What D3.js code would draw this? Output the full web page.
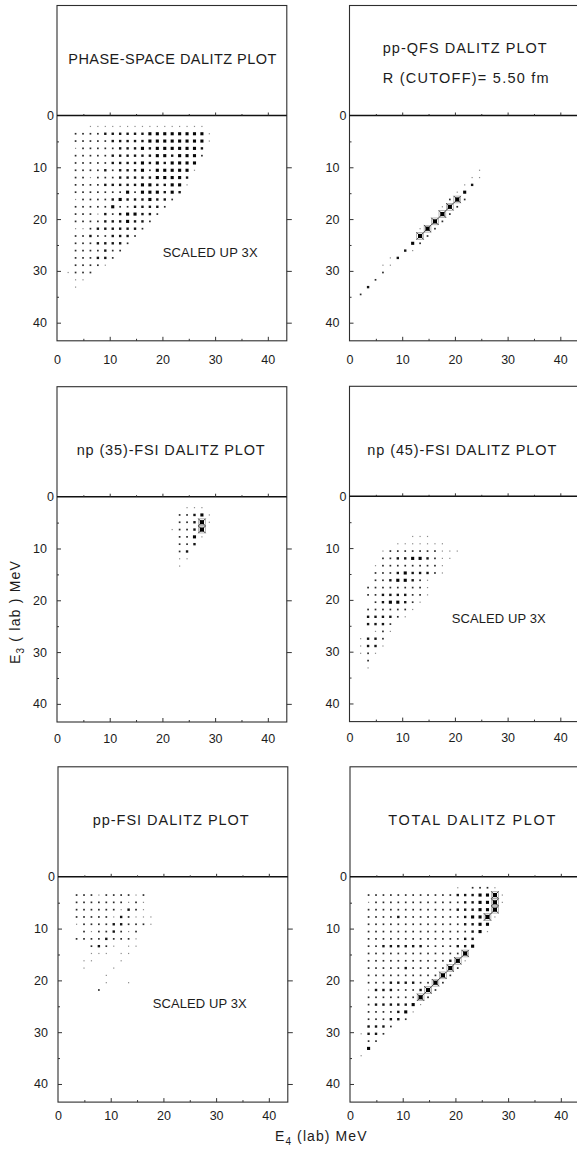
<!DOCTYPE html>
<html>
<head>
<meta charset="utf-8">
<script src="https://cdn.jsdelivr.net/npm/d3@7"></script>
<style>
  html, body { margin: 0; padding: 0; background: #fff; }
  svg { display: block; }
</style>
</head>
<body>
<svg id="chart" width="577" height="1150"></svg>
<script>
// ---------------------------------------------------------------
// Dalitz-plot histograms, E3 (rows j) versus E4 (columns i).
// Each bin is BIN MeV wide; bin centre = (k + 0.5) * BIN.
// Cell code: "." empty, 1 faint dot ... 4 large square, 5 crossed square.
// ---------------------------------------------------------------
const BIN = 1.41;
const X_MAX = 43.6;
const Y_MAX = 43.5;
const xTicks = [0, 10, 20, 30, 40];
const yTicks = [0, 10, 20, 30, 40];
const minorTicks = [5, 15, 25, 35];

const phaseSpace = [
  "......................",
  "....1111111111111111..",
  "..2222333333444444441.",
  "..2222233333444444441.",
  "..122222333434444443..",
  "..222223333334434442..",
  "..22222333343434444...",
  "..22223233342444441...",
  "..2212223333344443....",
  "..2222333334433441....",
  "..222222242444343.....",
  "..12222343334332......",
  "..2222242233332.......",
  "..222132344332........",
  "..22223334332.........",
  "..1123333332..........",
  "..223223332...........",
  "..22233332............",
  "..2222322.............",
  "..222332..............",
  "..22221...............",
  ".1222.................",
  "..11..................",
  "..1..................."
];

const ppQFS = [
  "......................",
  "......................",
  "......................",
  "......................",
  "......................",
  "......................",
  "......................",
  ".................1....",
  "................11....",
  "...............13.....",
  "..............14......",
  ".............252......",
  "............152.......",
  "............52........",
  "...........52.........",
  ".........152..........",
  ".........52...........",
  "........42............",
  ".......31.............",
  ".....13...............",
  "....11................",
  "....2.................",
  "...2..................",
  "..3...................",
  ".2...................."
];

const np35FSI = [
  "......................",
  ".................111..",
  "................22341.",
  "................22351.",
  "...............12235..",
  "................2241..",
  "................223...",
  "................23....",
  "................11....",
  "................1....."
];

const np45FSI = [
  "......................",
  "......................",
  "......................",
  "......................",
  "......................",
  "........111...........",
  "......1111111.........",
  "....12222222111.......",
  "....2233443211........",
  "...1222222221.........",
  "...2223433321.........",
  "...22344321...........",
  "..222222221...........",
  "..223333221...........",
  "...2344321............",
  "..2222221.............",
  "..333321..............",
  "..3332................",
  "...121................",
  ".1332.................",
  ".1331.................",
  ".121..................",
  "..2...................",
  "..1..................."
];

const ppFSI = [
  "......................",
  "......................",
  "..2221222212..........",
  "..2222222121..........",
  "..2222221321..........",
  "..22222132111.........",
  "..12222332221.........",
  "...21223212...........",
  "..222232221...........",
  "....2321.11...........",
  "....111.11............",
  "...11...1.............",
  "...1...1..............",
  "......1...............",
  "......1..1............",
  ".....2................"
];

const totalDalitz = [
  "......................",
  "..............1.2221..",
  "..2222222222223334451.",
  "..1222222222222334451.",
  "..222222222222333445..",
  "..222232222222234451..",
  "..22222222222223344...",
  "..22222222222222341...",
  "..222222222222233.....",
  "..223333332222334.....",
  "..22222222222225......",
  "..22222222222351......",
  "..2222232222252.......",
  "..222222222252........",
  "..22233332252.........",
  "..1333222352..........",
  "..222222252...........",
  "..23333341............",
  "..2222341.............",
  "..222332..............",
  "..3332................",
  ".1332.................",
  "..22..................",
  "..4...................",
  ".1...................."
];

const panelTitles = [
  ["PHASE-SPACE DALITZ PLOT"],
  ["pp-QFS DALITZ PLOT", "R (CUTOFF)=  5.50 fm"],
  ["np (35)-FSI DALITZ PLOT"],
  ["np (45)-FSI DALITZ PLOT"],
  ["pp-FSI DALITZ PLOT"],
  ["TOTAL DALITZ PLOT"]
];
const scaledNote = "SCALED UP 3X";
const xAxisTitle = ["E", "4", " (lab) MeV"];
const yAxisTitle = ["E", "3", " ( lab ) MeV"];

// ---------------------------------------------------------------
// Page layout of the six frames
// ---------------------------------------------------------------
const FONT = "'Liberation Sans', Arial, sans-serif";
const INK = "#1c1c1c";
const PX_X = 229.8;   // width of x domain in px
const PX_Y = 225.3;   // height of y domain in px
const HEAD = 110;     // title box above E3 = 0

const layout = [
  { data: phaseSpace, left: 57,    zero: 115.5, labelPad: 14,
    titles: [{ x: 68.3, y: 63.5, w: 208 }],
    note: { x: 162.7, y: 256.7, w: 95 } },
  { data: ppQFS,      left: 349.5, zero: 115.5, labelPad: 14,
    titles: [{ x: 382.7, y: 53.3, w: 164 }, { x: 382.7, y: 83.3, w: 166 }] },
  { data: np35FSI,    left: 57,    zero: 496.7, labelPad: 12,
    titles: [{ x: 76.7, y: 455, w: 188 }] },
  { data: np45FSI,    left: 349.5, zero: 496.3, labelPad: 12,
    titles: [{ x: 367.3, y: 455, w: 189 }],
    note: { x: 451.7, y: 623.3, w: 94 } },
  { data: ppFSI,      left: 58,    zero: 876.8, labelPad: 9,
    titles: [{ x: 92.7, y: 824.5, w: 156 }],
    note: { x: 152.7, y: 1008.3, w: 94 } },
  { data: totalDalitz, left: 350,  zero: 876.8, labelPad: 9,
    titles: [{ x: 388.3, y: 825, w: 167 }] }
];

const markSize  = { 1: 1.2, 2: 1.7, 3: 2.4, 4: 3.1, 5: 4.2 };
const markFill  = { 1: "#8c8c8c", 2: "#2b2b2b", 3: "#141414", 4: "#050505", 5: "#000" };

const svg = d3.select("#chart");
svg.append("rect").attr("width", 577).attr("height", 1150).attr("fill", "#fff");

function styleAxis(sel, size) {
  sel.attr("font-family", FONT).attr("font-size", size).attr("color", INK);
  sel.select(".domain").remove();
}

layout.forEach((p, k) => {
  const x = d3.scaleLinear().domain([0, X_MAX]).range([p.left, p.left + PX_X]);
  const y = d3.scaleLinear().domain([0, Y_MAX]).range([p.zero, p.zero + PX_Y]);
  const g = svg.append("g");
  const right = x(X_MAX), bottom = y(Y_MAX), top = y(0) - HEAD;

  // frame and E3 = 0 line
  g.append("rect")
    .attr("x", p.left).attr("y", top)
    .attr("width", right - p.left).attr("height", bottom - top)
    .attr("fill", "none").attr("stroke", "#2e2e2e").attr("stroke-width", 1.1);
  g.append("line")
    .attr("x1", p.left).attr("x2", right)
    .attr("y1", y(0)).attr("y2", y(0))
    .attr("stroke", "#111").attr("stroke-width", 1.6);

  // tick marks: inward on left and bottom, up from zero line, out on right
  const tickSets = [
    { axis: d3.axisRight(y).tickValues(yTicks.slice(1)), size: 4, t: `translate(${p.left},0)` },
    { axis: d3.axisRight(y).tickValues(minorTicks), size: 2, t: `translate(${p.left},0)` },
    { axis: d3.axisRight(y).tickValues(yTicks.slice(1)), size: 5, t: `translate(${right},0)` },
    { axis: d3.axisTop(x).tickValues(xTicks.slice(1)), size: 4, t: `translate(0,${bottom})` },
    { axis: d3.axisTop(x).tickValues(minorTicks), size: 2, t: `translate(0,${bottom})` },
    { axis: d3.axisTop(x).tickValues(xTicks.slice(1)), size: 3, t: `translate(0,${y(0)})` },
    { axis: d3.axisTop(x).tickValues(minorTicks), size: 1.5, t: `translate(0,${y(0)})` }
  ];
  tickSets.forEach(ts => {
    g.append("g").attr("transform", ts.t)
      .call(ts.axis.tickSize(ts.size).tickFormat(""))
      .call(s => styleAxis(s, 10))
      .selectAll("line").attr("stroke", "#333").attr("stroke-width", 1);
  });

  // tick labels
  g.append("g").attr("transform", `translate(${p.left},0)`)
    .call(d3.axisLeft(y).tickValues(yTicks).tickSize(0).tickPadding(10))
    .call(s => styleAxis(s, 12.5))
    .selectAll("text").filter(d => d === 0).attr("x", -3);
  g.append("g").attr("transform", `translate(0,${bottom})`)
    .call(d3.axisBottom(x).tickValues(xTicks).tickSize(0).tickPadding(p.labelPad))
    .call(s => styleAxis(s, 12.5));

  // titles
  panelTitles[k].forEach((txt, n) => {
    const tp = p.titles[n];
    g.append("text")
      .attr("x", tp.x).attr("y", tp.y)
      .attr("textLength", tp.w).attr("lengthAdjust", "spacing")
      .attr("font-family", FONT).attr("font-size", 14.5).attr("fill", INK)
      .text(txt);
  });
  if (p.note) {
    g.append("text")
      .attr("x", p.note.x).attr("y", p.note.y)
      .attr("textLength", p.note.w).attr("lengthAdjust", "spacing")
      .attr("font-family", FONT).attr("font-size", 13).attr("fill", INK)
      .text(scaledNote);
  }

  // histogram cells
  const cells = [];
  p.data.forEach((row, j) => {
    for (let i = 0; i < row.length; i++) {
      const c = row[i];
      if (c !== ".") cells.push({ i, j, level: +c });
    }
  });
  const cx = d => x((d.i + 0.5) * BIN);
  const cy = d => y((d.j + 0.5) * BIN);

  const crossed = cells.filter(d => d.level === 5);
  g.selectAll("rect.halo").data(crossed).join("rect")
    .attr("class", "halo")
    .attr("x", d => cx(d) - 3.4).attr("y", d => cy(d) - 3.4)
    .attr("width", 6.8).attr("height", 6.8)
    .attr("fill", "none").attr("stroke", "#8a8a8a").attr("stroke-width", 0.6);
  g.selectAll("path.cross").data(crossed).join("path")
    .attr("class", "cross")
    .attr("d", d => {
      const a = cx(d), b = cy(d), r = 3.6;
      return `M${a - r},${b - r}L${a + r},${b + r}M${a - r},${b + r}L${a + r},${b - r}`;
    })
    .attr("stroke", "#3a3a3a").attr("stroke-width", 0.9);

  g.selectAll("rect.cell").data(cells).join("rect")
    .attr("class", "cell")
    .attr("x", d => cx(d) - markSize[d.level] / 2)
    .attr("y", d => cy(d) - markSize[d.level] / 2)
    .attr("width", d => markSize[d.level])
    .attr("height", d => markSize[d.level])
    .attr("fill", d => markFill[d.level]);
});

// shared axis titles
const xt = svg.append("text")
  .attr("x", 275).attr("y", 1141)
  .attr("letter-spacing", 1.1)
  .attr("font-family", FONT).attr("font-size", 14).attr("fill", INK);
xt.append("tspan").text(xAxisTitle[0]);
xt.append("tspan").attr("font-size", 10).attr("dy", 4).text(xAxisTitle[1]);
xt.append("tspan").attr("dy", -4).text(xAxisTitle[2]);

const yt = svg.append("text")
  .attr("transform", "translate(20,612) rotate(-90)")
  .attr("text-anchor", "middle")
  .attr("letter-spacing", 1.2)
  .attr("font-family", FONT).attr("font-size", 14).attr("fill", INK);
yt.append("tspan").text(yAxisTitle[0]);
yt.append("tspan").attr("font-size", 10).attr("dy", 4).text(yAxisTitle[1]);
yt.append("tspan").attr("dy", -4).text(yAxisTitle[2]);
</script>
</body>
</html>
